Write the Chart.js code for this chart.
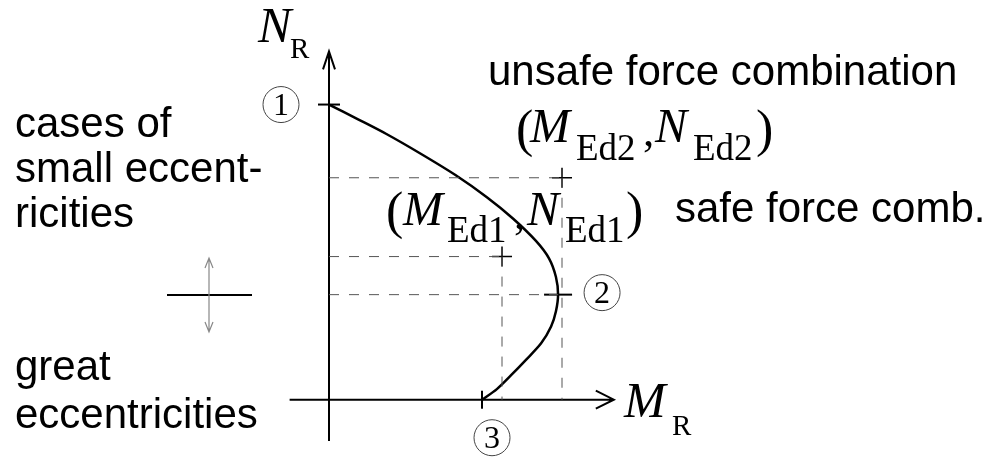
<!DOCTYPE html>
<html>
<head>
<meta charset="utf-8">
<script src="https://cdn.jsdelivr.net/npm/chart.js@4"></script>
<style>
  body { margin: 0; background: #fff; }
  canvas { display: block; }
</style>
</head>
<body>
<canvas id="chart" width="995" height="460"></canvas>
<script>
// interaction curve M_R - N_R (N_R at point 1 = 1.0)
var curveM = [0, 0.096, 0.188, 0.300, 0.416, 0.521, 0.607, 0.683, 0.726, 0.749, 0.756, 0.749, 0.733, 0.700, 0.650, 0.601, 0.554, 0.505];
var curveN = [1.0, 0.950, 0.901, 0.835, 0.762, 0.686, 0.614, 0.538, 0.479, 0.416, 0.356, 0.300, 0.248, 0.191, 0.135, 0.083, 0.036, 0];

// points 1, 2, 3
var keyLabels = ['1', '2', '3'];
var keyM = [0, 0.756, 0.505];
var keyN = [1.0, 0.356, 0];

// force combinations Ed1 (safe), Ed2 (unsafe)
var combM = [0.571, 0.769];
var combN = [0.485, 0.752];

// axis extents
var axisM = [-0.13, 0.94];
var axisN = [-0.14, 1.18];

var serif = '"Liberation Serif", "DejaVu Serif", serif';
var sans = '"Liberation Sans", Arial, sans-serif';

function pts(ms, ns) {
    return ms.map((m, i) => ({ x: m, y: ns[i] }));
}

function dashed(ms, ns) {
    return {
        data: pts(ms, ns),
        showLine: true,
        borderColor: '#555',
        borderWidth: 1,
        borderDash: [10, 10],
        pointRadius: 0,
        clip: false
    };
}

var datasets = [
    dashed([0, combM[1]], [combN[1], combN[1]]),
    dashed([0, combM[0]], [combN[0], combN[0]]),
    dashed([0, keyM[1]], [keyN[1], keyN[1]]),
    dashed([combM[0], combM[0]], [combN[0], 0]),
    dashed([combM[1], combM[1]], [combN[1], 0]),
    {
        data: pts(curveM, curveN),
        showLine: true,
        borderColor: '#000',
        borderWidth: 2.5,
        tension: 0.3,
        pointRadius: 0,
        clip: false
    },
    {
        data: pts(keyM, keyN),
        showLine: false,
        pointStyle: 'line',
        pointRadius: [11, 14, 9],
        pointRotation: [0, 0, 90],
        borderColor: '#000',
        borderWidth: 2,
        clip: false
    },
    {
        data: pts(combM, combN),
        showLine: false,
        pointStyle: 'cross',
        pointRadius: 10,
        borderColor: '#000',
        borderWidth: 1.5,
        clip: false
    }
];

function text(ctx, s, x, y, font) {
    ctx.font = font;
    ctx.fillText(s, x, y);
}

var drawing = {
    id: 'drawing',
    beforeDatasetsDraw(chart) {
        var ctx = chart.ctx;
        var sx = chart.scales.x, sy = chart.scales.y;
        var x0 = sx.getPixelForValue(0), y0 = sy.getPixelForValue(0);
        var top = sy.getPixelForValue(axisN[1]), bottom = sy.getPixelForValue(axisN[0]);
        var left = sx.getPixelForValue(axisM[0]), right = sx.getPixelForValue(axisM[1]);
        ctx.save();
        ctx.strokeStyle = '#000';
        ctx.lineWidth = 2;
        ctx.beginPath();
        ctx.moveTo(x0, bottom); ctx.lineTo(x0, top);
        ctx.moveTo(x0 - 6, top + 18); ctx.lineTo(x0, top); ctx.lineTo(x0 + 6, top + 18);
        ctx.moveTo(left, y0); ctx.lineTo(right, y0);
        ctx.moveTo(right - 18, y0 - 9); ctx.lineTo(right, y0); ctx.lineTo(right - 18, y0 + 9);
        ctx.stroke();
        ctx.restore();
    },
    afterDraw(chart) {
        var ctx = chart.ctx;
        var sx = chart.scales.x, sy = chart.scales.y;
        ctx.save();
        ctx.fillStyle = '#000';

        // circled point numbers
        var offs = [[-48, 0], [44, -2], [10, 38]];
        keyLabels.forEach((lab, i) => {
            var cx = sx.getPixelForValue(keyM[i]) + offs[i][0];
            var cy = sy.getPixelForValue(keyN[i]) + offs[i][1];
            ctx.strokeStyle = '#444';
            ctx.lineWidth = 1;
            ctx.beginPath();
            ctx.arc(cx, cy, 18, 0, Math.PI * 2);
            ctx.stroke();
            ctx.font = '32px ' + serif;
            ctx.textAlign = 'center';
            ctx.textBaseline = 'middle';
            ctx.fillText(lab, cx, cy + 2);
        });
        ctx.textAlign = 'left';
        ctx.textBaseline = 'alphabetic';

        // axis titles
        text(ctx, 'N', 258, 42, 'italic 50px ' + serif);
        text(ctx, 'R', 290, 58, '29px ' + serif);
        text(ctx, 'M', 624, 417, 'italic 50px ' + serif);
        text(ctx, 'R', 672, 435, '29px ' + serif);

        // (M_Ed2 ,N_Ed2)
        text(ctx, '(', 516, 146, '52px ' + serif);
        text(ctx, 'M', 530, 142, 'italic 48px ' + serif);
        text(ctx, 'Ed2', 576, 160, '37px ' + serif);
        text(ctx, ',', 643, 146, '45px ' + serif);
        text(ctx, 'N', 655, 142, 'italic 48px ' + serif);
        text(ctx, 'Ed2', 693, 160, '37px ' + serif);
        text(ctx, ')', 756, 146, '52px ' + serif);

        // (M_Ed1 ,N_Ed1)
        text(ctx, '(', 386, 228, '52px ' + serif);
        text(ctx, 'M', 403, 225, 'italic 48px ' + serif);
        text(ctx, 'Ed1', 447, 242, '37px ' + serif);
        text(ctx, ',', 514, 229, '45px ' + serif);
        text(ctx, 'N', 527, 225, 'italic 48px ' + serif);
        text(ctx, 'Ed1', 565, 242, '37px ' + serif);
        text(ctx, ')', 626, 228, '52px ' + serif);

        // descriptions
        var f = '42px ' + sans;
        text(ctx, 'unsafe force combination', 488, 85, f);
        text(ctx, 'safe force comb.', 675, 222, f);
        text(ctx, 'cases of', 15, 137, f);
        text(ctx, 'small eccent-', 15, 182, f);
        text(ctx, 'ricities', 15, 227, f);
        text(ctx, 'great', 15, 380, f);
        text(ctx, 'eccentricities', 15, 428, f);

        // small symbol: neutral line with double arrow
        ctx.strokeStyle = '#000';
        ctx.lineWidth = 2;
        ctx.beginPath();
        ctx.moveTo(167, 295); ctx.lineTo(252, 295);
        ctx.stroke();
        ctx.strokeStyle = '#888';
        ctx.lineWidth = 1.2;
        ctx.beginPath();
        ctx.moveTo(209, 258); ctx.lineTo(209, 332);
        ctx.moveTo(205, 268); ctx.lineTo(209, 258); ctx.lineTo(213, 268);
        ctx.moveTo(205, 322); ctx.lineTo(209, 332); ctx.lineTo(213, 322);
        ctx.stroke();
        ctx.restore();
    }
};

new Chart(document.getElementById('chart').getContext('2d'), {
    type: 'scatter',
    data: { datasets },
    options: {
        responsive: false,
        animation: false,
        layout: { padding: { left: 26, right: 60, top: 9.1, bottom: 11.55 } },
        scales: {
            x: { type: 'linear', min: -1, max: 2, display: false },
            y: { type: 'linear', min: -0.15, max: 1.3, display: false }
        },
        plugins: {
            legend: { display: false },
            tooltip: { enabled: false }
        }
    },
    plugins: [drawing]
});
</script>
</body>
</html>
